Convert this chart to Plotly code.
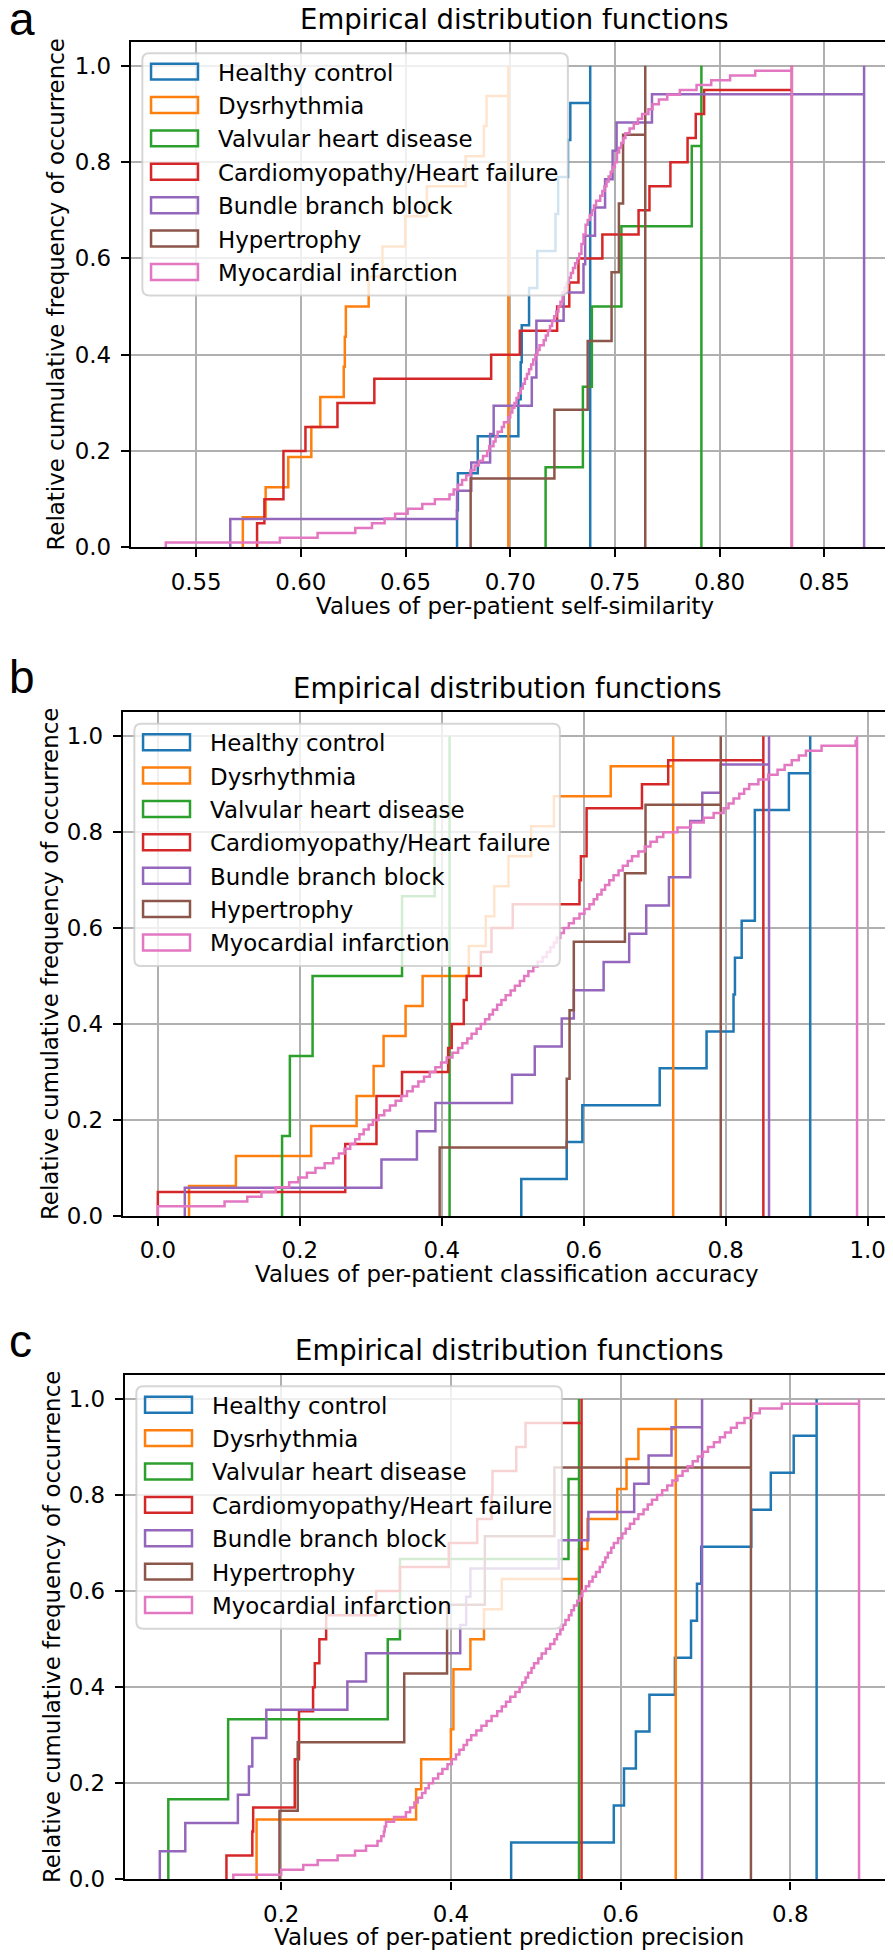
import plotly.graph_objects as go

# ---------------- data ----------------
GROUPS = ["Healthy control", "Dysrhythmia", "Valvular heart disease",
          "Cardiomyopathy/Heart failure", "Bundle branch block",
          "Hypertrophy", "Myocardial infarction"]
COLORS = ["#1f77b4", "#ff7f0e", "#2ca02c", "#d62728", "#9467bd", "#8c564b", "#e377c2"]

# panel a: per-patient self-similarity
a_healthy = [0.6746, 0.6750, 0.6845, 0.7039, 0.7050, 0.7055, 0.7090, 0.7129, 0.7216,
             0.7229, 0.7276, 0.7287, 0.7382]
a_dysrhythmia = [0.5723, 0.5832, 0.5940, 0.6050, 0.6093, 0.6205, 0.6210, 0.6215,
                 0.6324, 0.6390, 0.6498, 0.6602, 0.6787, 0.6874, 0.6887, 0.6991]
a_valvular = [0.7169, 0.7347, 0.7390, 0.7531, 0.7867, 0.7913]
a_cardio = [0.5791, 0.5826, 0.5917, 0.5917, 0.6022, 0.6175, 0.6351, 0.6909, 0.7046,
            0.7224, 0.7282, 0.7326, 0.7440, 0.7613, 0.7665, 0.7765, 0.7847, 0.7886,
            0.7926, 0.8345]
a_bundle = [0.5663, 0.6746, 0.6814, 0.6904, 0.6921, 0.7103, 0.7125, 0.7125, 0.7255,
            0.7350, 0.7358, 0.7405, 0.7453, 0.7489, 0.7508, 0.7677, 0.8690]
a_hypertrophy = [0.6811, 0.7211, 0.7370, 0.7484, 0.7519, 0.7539, 0.7645]
a_mi = [0.5355, 0.590, 0.608, 0.626, 0.634, 0.640, 0.645, 0.651, 0.658, 0.664,
        0.671, 0.673, 0.675, 0.677, 0.679, 0.681, 0.683, 0.685, 0.687, 0.689,
        0.690, 0.692, 0.693, 0.694, 0.696, 0.697, 0.699, 0.700, 0.701, 0.702,
        0.703, 0.704, 0.705, 0.706, 0.707, 0.708, 0.709, 0.710, 0.711, 0.712,
        0.713, 0.714, 0.716, 0.717, 0.718, 0.719, 0.720, 0.721, 0.722, 0.723,
        0.724, 0.725, 0.725, 0.726, 0.727, 0.728, 0.729, 0.730, 0.731, 0.732,
        0.733, 0.734, 0.734, 0.735, 0.735, 0.736, 0.736, 0.737, 0.738, 0.739,
        0.740, 0.741, 0.743, 0.744, 0.745, 0.746, 0.747, 0.748, 0.749, 0.750,
        0.751, 0.751, 0.752, 0.753, 0.754, 0.755, 0.757, 0.759, 0.761, 0.763,
        0.766, 0.768, 0.771, 0.775, 0.781, 0.789, 0.796, 0.805, 0.817, 0.8345]

# panel b: per-patient classification accuracy
b_healthy = [0.512, 0.576, 0.598, 0.707, 0.773, 0.811, 0.813, 0.8225, 0.841, 0.841,
             0.841, 0.889, 0.919]
b_dysrhythmia = [0.044, 0.110, 0.216, 0.280, 0.304, 0.318, 0.349, 0.373, 0.438, 0.462,
                 0.474, 0.494, 0.526, 0.558, 0.638, 0.726]
b_valvular = [0.175, 0.186, 0.218, 0.344, 0.390, 0.411]
b_cardio = [0.0, 0.264, 0.264, 0.308, 0.308, 0.344, 0.409, 0.414, 0.431, 0.435,
            0.455, 0.470, 0.500, 0.594, 0.596, 0.604, 0.604, 0.682, 0.719, 0.853]
b_bundle = [0.038, 0.315, 0.365, 0.391, 0.499, 0.531, 0.569, 0.586, 0.628, 0.664,
            0.688, 0.720, 0.750, 0.750, 0.767, 0.793, 0.861]
b_hypertrophy = [0.397, 0.576, 0.580, 0.586, 0.658, 0.687, 0.793]
b_mi = [0.0, 0.0, 0.094, 0.126, 0.146, 0.166, 0.185, 0.198, 0.210, 0.222,
        0.235, 0.247, 0.255, 0.263, 0.271, 0.278, 0.284, 0.290, 0.297, 0.303,
        0.311, 0.319, 0.327, 0.335, 0.343, 0.351, 0.359, 0.367, 0.375, 0.383,
        0.391, 0.399, 0.407, 0.415, 0.423, 0.429, 0.436, 0.442, 0.449, 0.455,
        0.461, 0.467, 0.472, 0.478, 0.484, 0.490, 0.497, 0.503, 0.510, 0.516,
        0.522, 0.529, 0.535, 0.542, 0.548, 0.553, 0.558, 0.562, 0.567, 0.572,
        0.579, 0.586, 0.594, 0.601, 0.608, 0.614, 0.619, 0.625, 0.630, 0.636,
        0.642, 0.649, 0.655, 0.662, 0.668, 0.677, 0.686, 0.694, 0.703, 0.712,
        0.732, 0.751, 0.769, 0.783, 0.797, 0.804, 0.811, 0.819, 0.826, 0.833,
        0.846, 0.860, 0.873, 0.883, 0.893, 0.903, 0.913, 0.935, 0.983, 0.985]

# panel c: per-patient prediction precision
c_healthy = [0.471, 0.592, 0.604, 0.618, 0.634, 0.664, 0.683, 0.690, 0.695, 0.754,
             0.777, 0.804, 0.831]
c_dysrhythmia = [0.171, 0.171, 0.359, 0.365, 0.400, 0.403, 0.403, 0.423, 0.439, 0.460,
                 0.551, 0.561, 0.596, 0.607, 0.621, 0.665]
c_valvular = [0.067, 0.1375, 0.3256, 0.340, 0.5386, 0.551]
c_cardio = [0.1355, 0.166, 0.167, 0.216, 0.216, 0.221, 0.221, 0.2376, 0.2396, 0.245,
            0.253, 0.312, 0.340, 0.3975, 0.431, 0.448, 0.449, 0.477, 0.488, 0.554]
c_bundle = [0.057, 0.087, 0.149, 0.162, 0.166, 0.1825, 0.278, 0.300, 0.411, 0.418,
            0.423, 0.527, 0.562, 0.616, 0.633, 0.660, 0.696]
c_hypertrophy = [0.198, 0.2195, 0.345, 0.3955, 0.440, 0.522, 0.7536]
c_mi = [0.1436, 0.200, 0.226, 0.243, 0.2665, 0.287, 0.300, 0.3135, 0.318, 0.321,
        0.322, 0.3236, 0.333, 0.347, 0.352, 0.357, 0.361, 0.366, 0.370, 0.374,
        0.379, 0.385, 0.390, 0.396, 0.401, 0.406, 0.410, 0.415, 0.419, 0.424,
        0.430, 0.436, 0.442, 0.448, 0.4546, 0.460, 0.465, 0.470, 0.476, 0.481,
        0.484, 0.488, 0.491, 0.495, 0.498, 0.503, 0.507, 0.512, 0.517, 0.522,
        0.525, 0.529, 0.532, 0.535, 0.539, 0.542, 0.545, 0.549, 0.552, 0.555,
        0.559, 0.563, 0.567, 0.571, 0.5755, 0.579, 0.582, 0.585, 0.589, 0.592,
        0.597, 0.602, 0.606, 0.611, 0.616, 0.621, 0.627, 0.632, 0.637, 0.643,
        0.649, 0.655, 0.661, 0.667, 0.673, 0.679, 0.685, 0.691, 0.697, 0.703,
        0.710, 0.717, 0.723, 0.730, 0.737, 0.746, 0.755, 0.764, 0.790, 0.881]

TITLE = "Empirical distribution functions"
Y_LABEL = "Relative cumulative frequency of occurrence"
Y_TICKS = [0.0, 0.2, 0.4, 0.6, 0.8, 1.0]
Y_TICKTEXT = ["0.0", "0.2", "0.4", "0.6", "0.8", "1.0"]
A_XTICKS = [0.55, 0.60, 0.65, 0.70, 0.75, 0.80, 0.85]
A_XTICKTEXT = ["0.55", "0.60", "0.65", "0.70", "0.75", "0.80", "0.85"]
B_XTICKS = [0.0, 0.2, 0.4, 0.6, 0.8, 1.0]
B_XTICKTEXT = ["0.0", "0.2", "0.4", "0.6", "0.8", "1.0"]
C_XTICKS = [0.2, 0.4, 0.6, 0.8]
C_XTICKTEXT = ["0.2", "0.4", "0.6", "0.8"]

# ---------------- layout helpers ----------------
W, H = 893, 1954
def fx(px): return px / W
def fy(py): return 1 - py / H

PANELS = [
    dict(letter="a", box=(123, 34, 892, 543),
         data=[a_healthy, a_dysrhythmia, a_valvular, a_cardio, a_bundle, a_hypertrophy, a_mi],
         xt=A_XTICKS, xtt=A_XTICKTEXT, xlabel="Values of per-patient self-similarity",
         ylab_x=48, xlab_y=602, letter_base=29, title_gap=5),
    dict(letter="b", box=(115, 709, 885, 1216),
         data=[b_healthy, b_dysrhythmia, b_valvular, b_cardio, b_bundle, b_hypertrophy, b_mi],
         xt=B_XTICKS, xtt=B_XTICKTEXT, xlabel="Values of per-patient classification accuracy",
         ylab_x=42, xlab_y=1274, letter_base=691, title_gap=6.5),
    dict(letter="c", box=(117, 1376, 887, 1884),
         data=[c_healthy, c_dysrhythmia, c_valvular, c_cardio, c_bundle, c_hypertrophy, c_mi],
         xt=C_XTICKS, xtt=C_XTICKTEXT, xlabel="Values of per-patient prediction precision",
         ylab_x=44, xlab_y=1942, letter_base=1359.5, title_gap=6.5),
]

FONT = "DejaVu Sans"
FS = 22.9
fig = go.Figure()
layout = dict(width=W, height=H, margin=dict(l=0, r=0, t=0, b=0),
              paper_bgcolor="white", plot_bgcolor="white", showlegend=False,
              font=dict(family=FONT, size=FS, color="black"))
annotations = []
shapes = []

for i, P in enumerate(PANELS):
    suf = "" if i == 0 else str(i + 1)
    l, t, r, b = P["box"]
    allv = [v for s in P["data"] for v in s]
    lo, hi = min(allv), max(allv)
    pad = 0.05 * (hi - lo)
    for name, col, vals in zip(GROUPS, COLORS, P["data"]):
        s = sorted(vals)
        n = len(s)
        xs = [s[0]] + s + [s[-1]]
        ys = [0.0] + [(k + 1) / n for k in range(n)] + [0.0]
        fig.add_trace(go.Scatter(x=xs, y=ys, mode="lines", name=name,
                                 line=dict(color=col, width=2.5, shape="hv"),
                                 xaxis="x" + suf, yaxis="y" + suf, hoverinfo="skip"))
    axcommon = dict(showline=True, mirror=True, linecolor="black", linewidth=2.2,
                    ticks="outside", ticklen=8, tickwidth=2, tickcolor="black",
                    showgrid=True, gridcolor="#b0b0b0", gridwidth=1.6, zeroline=False,
                    tickfont=dict(family=FONT, size=FS, color="black"))
    layout["xaxis" + suf] = dict(domain=[fx(l), fx(r)], anchor="y" + suf,
                                 range=[lo - pad, hi + pad], tickmode="array",
                                 tickvals=P["xt"], ticktext=P["xtt"], ticklabelstandoff=5, **axcommon)
    layout["yaxis" + suf] = dict(domain=[fy(b), fy(t)], anchor="x" + suf,
                                 range=[0, 1.05], tickmode="array",
                                 tickvals=Y_TICKS, ticktext=Y_TICKTEXT, ticklabelstandoff=5, **axcommon)
    cx = (l + r) / 2
    # title
    annotations.append(dict(text=TITLE, x=fx(cx), y=fy(t - P["title_gap"]), xref="paper", yref="paper",
                            xanchor="center", yanchor="bottom", showarrow=False,
                            font=dict(family=FONT, size=27.5, color="black")))
    # panel letter
    annotations.append(dict(text=P["letter"], x=fx(-1), y=fy(P["letter_base"] + 10.5),
                            xref="paper", yref="paper",
                            xanchor="left", yanchor="bottom", showarrow=False,
                            font=dict(family="Liberation Sans", size=46, color="black")))
    # x label
    annotations.append(dict(text=P["xlabel"], x=fx(cx), y=fy(P["xlab_y"]), xref="paper", yref="paper",
                            xanchor="center", yanchor="middle", showarrow=False,
                            font=dict(family=FONT, size=FS, color="black")))
    # y label
    annotations.append(dict(text=Y_LABEL, x=fx(P["ylab_x"]), y=fy((t + b) / 2), xref="paper", yref="paper",
                            xanchor="center", yanchor="middle", showarrow=False, textangle=-90,
                            font=dict(family=FONT, size=FS, color="black")))
    # legend box (rounded)
    bl, bt = l + 11.5, t + 11.5
    br, bb = bl + 426, bt + 244
    rr = 7
    path = (f"M {fx(bl + rr)},{fy(bt)} L {fx(br - rr)},{fy(bt)} Q {fx(br)},{fy(bt)} {fx(br)},{fy(bt + rr)} "
            f"L {fx(br)},{fy(bb - rr)} Q {fx(br)},{fy(bb)} {fx(br - rr)},{fy(bb)} "
            f"L {fx(bl + rr)},{fy(bb)} Q {fx(bl)},{fy(bb)} {fx(bl)},{fy(bb - rr)} "
            f"L {fx(bl)},{fy(bt + rr)} Q {fx(bl)},{fy(bt)} {fx(bl + rr)},{fy(bt)} Z")
    shapes.append(dict(type="path", path=path, xref="paper", yref="paper", layer="above",
                       fillcolor="rgba(255,255,255,0.8)", line=dict(color="rgba(204,204,204,0.8)", width=2)))
    for k, (name, col) in enumerate(zip(GROUPS, COLORS)):
        yc = bt + 18.6 + k * 33.6
        shapes.append(dict(type="rect", xref="paper", yref="paper", layer="above",
                           x0=fx(bl + 8.7), x1=fx(bl + 55.7), y0=fy(yc + 8), y1=fy(yc - 8),
                           line=dict(color=col, width=2.5), fillcolor="rgba(0,0,0,0)"))
        annotations.append(dict(text=name, x=fx(bl + 74), y=fy(yc + 1), xref="paper", yref="paper",
                                xanchor="left", yanchor="middle", showarrow=False,
                                font=dict(family=FONT, size=FS, color="black")))

layout["annotations"] = annotations
layout["shapes"] = shapes
fig.update_layout(**layout)
fig.write_html("out.html")
